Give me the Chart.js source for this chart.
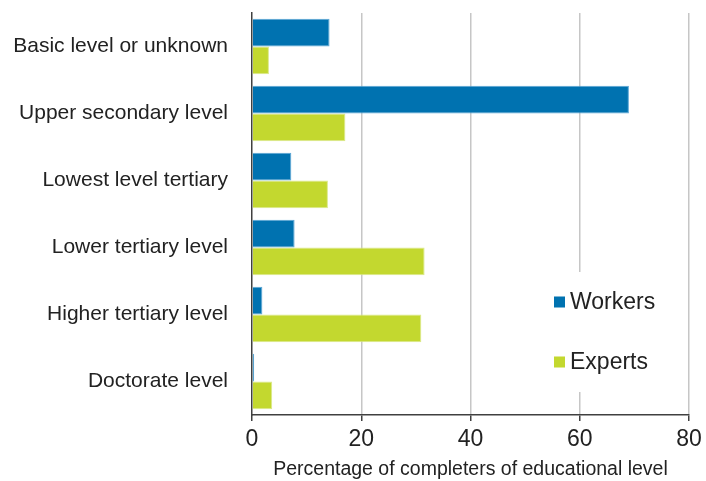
<!DOCTYPE html>
<html>
<head>
<meta charset="utf-8">
<script src="https://cdn.jsdelivr.net/npm/chart.js@4/dist/chart.umd.min.js"></script>
<style>
html,body{margin:0;padding:0;background:#fff;}
#wrap{width:706px;height:481px;position:relative;}
</style>
</head>
<body>
<div id="wrap"><canvas id="c" width="706" height="481"></canvas></div>
<script>
const categories = ["Basic level or unknown","Upper secondary level","Lowest level tertiary","Lower tertiary level","Higher tertiary level","Doctorate level"];
const workers = [14.2, 69.0, 7.2, 7.8, 1.9, 0.4];
const experts = [3.1, 17.1, 13.9, 31.6, 31.0, 3.7];
const xTicks = [0, 20, 40, 60, 80];
const seriesNames = ["Workers", "Experts"];
const axisTitle = "Percentage of completers of educational level";

const FONT = "'Liberation Sans', Arial, sans-serif";

const legendPlugin = {
  id: 'insideLegend',
  afterDraw(chart) {
    const ctx = chart.ctx;
    const ca = chart.chartArea;
    const bx = ca.right - 144, by = ca.bottom - 143;
    ctx.save();
    ctx.fillStyle = '#ffffff';
    ctx.fillRect(bx, by, 120, 120);
    ctx.font = '23px ' + FONT;
    ctx.textBaseline = 'middle';
    chart.data.datasets.forEach((ds, i) => {
      const y = by + 30 + i * 60;
      ctx.fillStyle = ds.backgroundColor;
      ctx.fillRect(bx + 9, y - 5.5, 11, 11);
      ctx.fillStyle = '#222';
      ctx.fillText(ds.label, bx + 25, y + 1);
    });
    ctx.restore();
  }
};

new Chart(document.getElementById('c'), {
  type: 'bar',
  data: {
    labels: categories,
    datasets: [
      { label: seriesNames[0], data: workers, backgroundColor: '#0072b0', borderColor: '#5aa6d6', borderWidth: 1, borderSkipped: 'left',
        categoryPercentage: 0.83, barPercentage: 1.0 },
      { label: seriesNames[1], data: experts, backgroundColor: '#c3d82f', borderColor: '#dbe98a', borderWidth: 1, borderSkipped: 'left',
        categoryPercentage: 0.83, barPercentage: 1.0 }
    ]
  },
  options: {
    indexAxis: 'y',
    responsive: false,
    animation: false,
    layout: { padding: { top: 13, right: 17, bottom: 0, left: 0 } },
    plugins: { legend: { display: false }, tooltip: { enabled: false } },
    scales: {
      x: {
        min: 0, max: 80,
        afterBuildTicks(scale) { scale.ticks = xTicks.map(v => ({ value: v })); },
        afterFit(scale) { scale.height = 66; scale.paddingLeft = 0; scale.paddingRight = 0; },
        grid: {
          color: ctx => (ctx.tick && ctx.tick.value === 0) ? 'rgba(0,0,0,0)' : '#c6c6c6',
          lineWidth: 1.5,
          drawTicks: true, tickLength: 6, tickColor: '#404040', tickWidth: 1.5
        },
        border: { display: true, color: '#404040', width: 1.5 },
        ticks: { font: { family: FONT, size: 23 }, color: '#222', padding: 5, maxRotation: 0 },
        title: { display: true, text: axisTitle, font: { family: FONT, size: 19.5 }, color: '#222', padding: { top: 0, bottom: 0 } }
      },
      y: {
        afterFit(scale) { scale.width = 252; scale.paddingTop = 0; scale.paddingBottom = 0; },
        grid: { display: false, drawTicks: false },
        border: { display: true, color: '#404040', width: 1.5 },
        ticks: { font: { family: FONT, size: 21 }, color: '#222', padding: 24 }
      }
    }
  },
  plugins: [legendPlugin]
});
</script>
</body>
</html>
